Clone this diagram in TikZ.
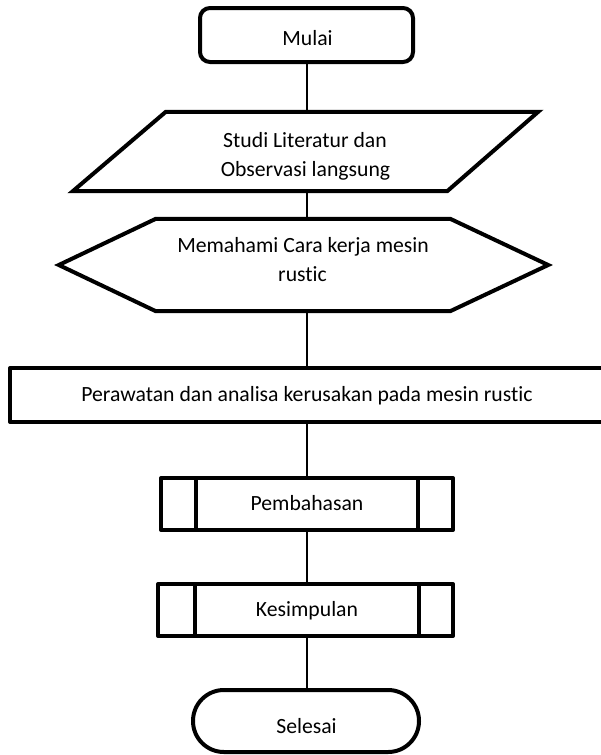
\documentclass[tikz,border=0pt]{standalone}
\usepackage{fontspec}
\setmainfont{Carlito}[Ligatures={NoCommon}]
\usetikzlibrary{calc}
\begin{document}
\begin{tikzpicture}[x=1pt,y=-1pt,
  outline/.style={draw=black, line width=4pt, inner sep=0pt},
  txt/.style={inner sep=0pt, anchor=base, font=\fontsize{21.7}{28.5}\selectfont},
  frame/.style={inner sep=0pt},
  conn/.style={draw=black, line width=1.5pt}]
\useasboundingbox (0,0) rectangle (601,755);
\clip (0,0) rectangle (601,755);
\fill[white] (0,0) rectangle (601,755);
\coordinate (spine) at (307,0);

% Start
\node[outline, rounded corners=10pt, minimum width=213pt, minimum height=54pt] (mulai) at (306.5,35) {};
\node[txt] (mulai-t) at (307.5,45) {Mulai};

% Parallelogram
\node[frame, minimum width=465pt, minimum height=79pt] (studi) at (305.5,151.5) {};
\draw[outline] ($(studi.north west)+(93,0)$) -- (studi.north east) -- ($(studi.south east)+(-91,0)$) -- (studi.south west) -- cycle;
\node[txt] (studi-t1) at (305,147.7) {Studi Literatur dan};
\node[txt] (studi-t2) at (305.5,176.2) {Observasi langsung};

% Hexagon
\node[frame, minimum width=489pt, minimum height=92pt] (paham) at (303.5,265) {};
\draw[outline] (paham.west) -- ($(paham.north west)+(97,0)$) -- ($(paham.north east)+(-98,0)$) -- (paham.east) -- ($(paham.south east)+(-98,0)$) -- ($(paham.south west)+(97,0)$) -- cycle;
\node[txt] (paham-t1) at (303,252) {Memahami Cara kerja mesin};
\node[txt] (paham-t2) at (302.5,281) {rustic};

% Process
\node[outline, line join=round, minimum width=594pt, minimum height=54pt] (rawat) at (307,395) {};
\node[txt] (rawat-t) at (307,401.7) {Perawatan dan analisa kerusakan pada mesin rustic};

% Predefined process 1
\node[outline, line join=round, minimum width=292pt, minimum height=52pt] (bahas) at (307,504) {};
\draw[outline] ($(bahas.north west)+(37,0)$) -- ($(bahas.south west)+(37,0)$);
\draw[outline] ($(bahas.north east)+(-37,0)$) -- ($(bahas.south east)+(-37,0)$);
\node[txt] (bahas-t) at (307,510.7) {Pembahasan};

% Predefined process 2
\node[outline, line join=round, minimum width=295pt, minimum height=52pt] (simpul) at (305.5,610) {};
\draw[outline] ($(simpul.north west)+(39,0)$) -- ($(simpul.south west)+(39,0)$);
\draw[outline] ($(simpul.north east)+(-36,0)$) -- ($(simpul.south east)+(-36,0)$);
\node[txt] (simpul-t) at (307,616.7) {Kesimpulan};

% End
\node[outline, rounded corners=30.9pt, minimum width=226pt, minimum height=62pt] (selesai) at (306,721) {};
\node[txt] (selesai-t) at (306.5,733) {Selesai};

% Connectors
\draw[conn] (mulai.south -| spine) -- (studi.north -| spine);
\draw[conn] (studi.south -| spine) -- (paham.north -| spine);
\draw[conn] (paham.south -| spine) -- (rawat.north -| spine);
\draw[conn] (rawat.south -| spine) -- (bahas.north -| spine);
\draw[conn] (bahas.south -| spine) -- (simpul.north -| spine);
\draw[conn] (simpul.south -| spine) -- (selesai.north -| spine);
\end{tikzpicture}
\end{document}
